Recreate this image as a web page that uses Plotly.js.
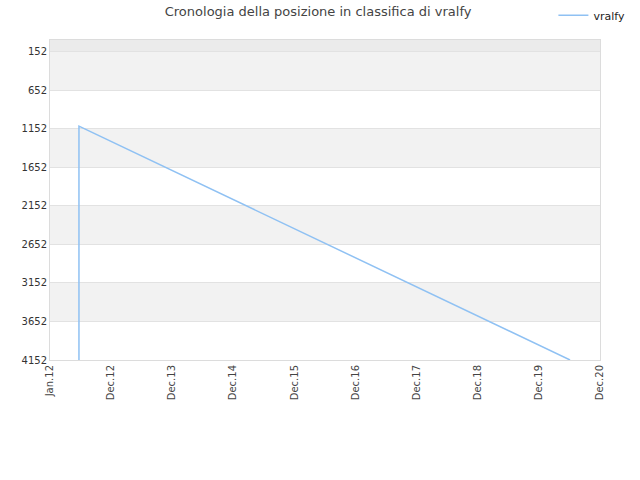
<!DOCTYPE html>
<html>
<head>
<meta charset="utf-8">
<script src="https://cdn.plot.ly/plotly-3.0.1.min.js"></script>
<style>body{margin:0;background:#fff}</style>
</head>
<body>
<div id="chart" style="width:640px;height:480px"></div>
<script>
// ranking history of vralfy
var dates = ['2012-06-22', '2012-06-22', '2020-07-05'];
var ranks = [4152, 1117, 4152];

var tickDates = ['2012-01-01', '2012-12-31', '2013-12-31', '2014-12-31', '2015-12-31',
                 '2016-12-31', '2017-12-31', '2018-12-31', '2019-12-31', '2020-12-31'];
var tickLabels = ['Jan.12', 'Dec.12', 'Dec.13', 'Dec.14', 'Dec.15',
                  'Dec.16', 'Dec.17', 'Dec.18', 'Dec.19', 'Dec.20'];
var rankTicks = [152, 652, 1152, 1652, 2152, 2652, 3152, 3652, 4152];

// grey bands every other step
var shapes = [{type: 'rect', xref: 'paper', yref: 'y', x0: 0, x1: 1, y0: 0, y1: rankTicks[0],
               fillcolor: '#ebebeb', line: {width: 0}, layer: 'below'}];
for (var i = 0; i < rankTicks.length - 1; i += 2) {
  shapes.push({type: 'rect', xref: 'paper', yref: 'y', x0: 0, x1: 1,
               y0: rankTicks[i], y1: rankTicks[i + 1],
               fillcolor: '#f2f2f2', line: {width: 0}, layer: 'below'});
}

var data = [{
  x: dates,
  y: ranks,
  type: 'scatter',
  mode: 'lines',
  name: 'vralfy',
  line: {color: '#8fc1f3', width: 1.5}
}];

var layout = {
  width: 640, height: 480,
  margin: {l: 50, r: 40, t: 40, b: 120},
  paper_bgcolor: 'white', plot_bgcolor: 'white',
  font: {family: 'DejaVu Sans', size: 10, color: '#333'},
  title: {text: 'Cronologia della posizione in classifica di vralfy',
          x: 0.497, y: 0.985, yanchor: 'top', font: {size: 13, color: '#444'}},
  showlegend: true,
  legend: {xref: 'container', yref: 'container', x: 0.985, y: 0.968,
           xanchor: 'right', yanchor: 'middle', orientation: 'h',
           bgcolor: 'rgba(0,0,0,0)', itemwidth: 30,
           font: {size: 11, color: '#222'}},
  xaxis: {
    type: 'date',
    range: ['2012-01-01', '2020-12-31'],
    tickvals: tickDates, ticktext: tickLabels,
    tickangle: -90, showgrid: false, zeroline: false,
    showline: true, linecolor: '#dcdcdc', mirror: true,
    ticks: '', tickfont: {size: 10, color: '#444'}
  },
  yaxis: {
    range: [4152, 0],
    tickvals: rankTicks,
    showgrid: true, gridcolor: '#e2e2e2', zeroline: false,
    showline: true, linecolor: '#dcdcdc', mirror: true,
    ticks: '', tickfont: {size: 10, color: '#333'}
  },
  shapes: shapes
};

Plotly.newPlot('chart', data, layout, {displayModeBar: false});
</script>
</body>
</html>
